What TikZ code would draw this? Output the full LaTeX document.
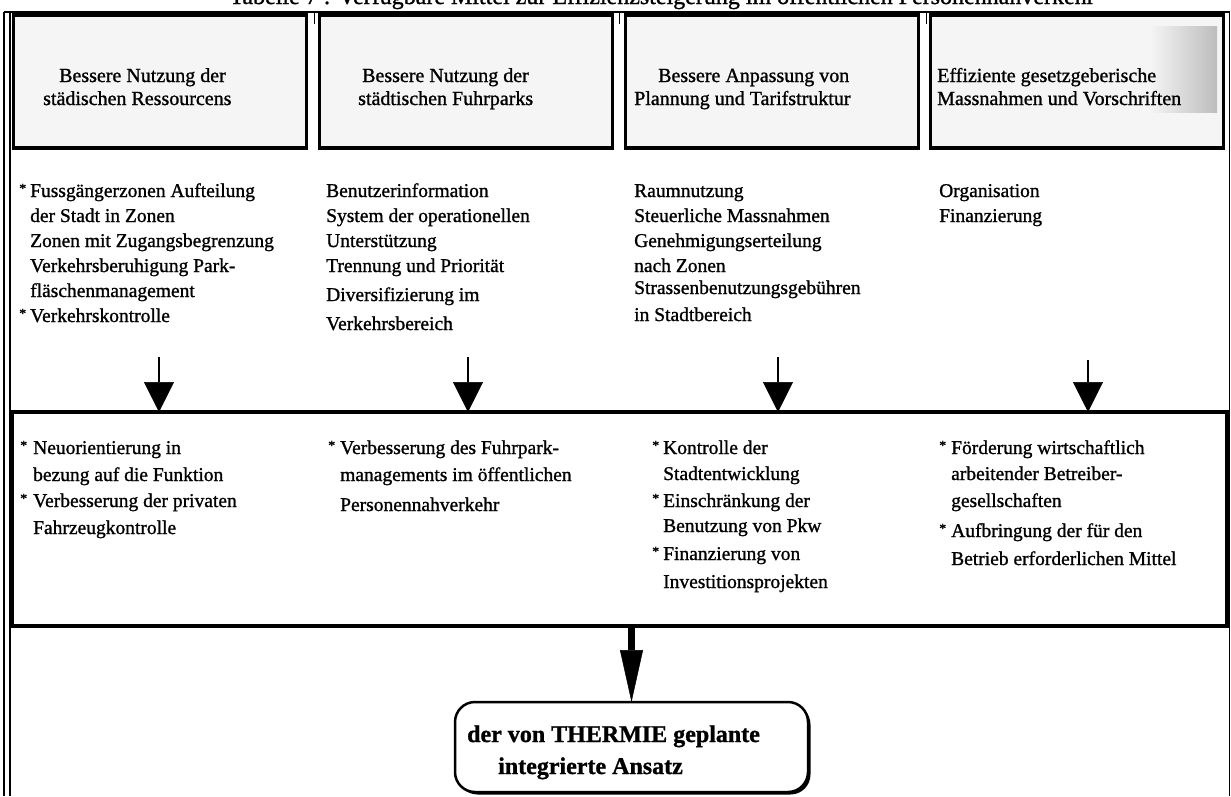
\documentclass[tikz,border=0pt]{standalone}
\usepackage{fontspec}
\setmainfont{Liberation Serif}[FakeBold=1.1]
\usetikzlibrary{arrows.meta,shadows}
\newcommand\bulx[1]{\llap{\raisebox{4pt}{\fontsize{14}{14}\selectfont *}\hspace*{#1}}}
\begin{document}
\begin{tikzpicture}[x=1pt,y=-1pt,
  topbox/.style={draw, line width=3.5pt, fill=black!4, minimum width=293pt, minimum height=133pt, inner sep=0pt, outer sep=0pt},
  midbox/.style={draw, line width=4pt, minimum width=1215pt, minimum height=214pt, inner sep=0pt, outer sep=0pt},
  finbox/.style={draw, line width=2.5pt, fill=white, rounded corners=20pt, minimum width=353pt, minimum height=90pt, inner sep=0pt, outer sep=0pt,
    drop shadow={shadow xshift=2.5pt, shadow yshift=-2.5pt, fill=black, opacity=1}},
  head/.style={font=\fontsize{20}{24}\selectfont, inner sep=0pt, anchor=base west},
  body/.style={font=\fontsize{19.5}{24}\selectfont, inner sep=0pt, anchor=base west},
  fint/.style={font=\fontsize{24}{28}\selectfont\bfseries, inner sep=0pt, anchor=base west},
  smallarr/.style={line width=1.5pt, -{Triangle[width=30pt,length=30pt,line width=0.5pt]}},
  bigarr/.style={line width=7pt, -{Triangle[width=23pt,length=52pt,line width=0.5pt]}},
  frameline/.style={line width=1.5pt}
]
\useasboundingbox (0,0) rectangle (1231,796);
% title (cut off at top, as in the reference)
\node[font=\fontsize{24}{24}\selectfont, anchor=base, inner sep=0pt] (title) at (662,4) {Tabelle 7 : Verfügbare Mittel zur Effizienzsteigerung im öffentlichen Personennahverkehr};
% outer frame
\draw[frameline] (4,12) -- (4,796);
\draw[line width=2pt] (9.5,12) -- (9.5,796);
\draw[frameline] (4,12) -- (1229.5,12);
\draw[line width=1.2pt] (1229.5,12) -- (1229.5,796);
\foreach \x in {314,619,926} \draw[line width=1pt] (\x,12) -- (\x,24);
% top boxes
\node[topbox] (t1) at (160,81.5) {};
\node[topbox] (t2) at (466,81.5) {};
\node[topbox] (t3) at (772,81.5) {};
\node[topbox] (t4) at (1077,81.5) {};
\shade[left color=black!4, right color=black!26] (1150,26) rectangle (1217,112);
\node[head] (h1a) at (59,82) {Bessere Nutzung der};
\node[head] (h1b) at (43,105) {städischen Ressourcens};
\node[head] (h2a) at (362,82) {Bessere Nutzung der};
\node[head] (h2b) at (358,105) {städtischen Fuhrparks};
\node[head] (h3a) at (658,82) {Bessere Anpassung von};
\node[head] (h3b) at (634,105) {Plannung und Tarifstruktur};
\node[head] (h4a) at (937,82) {Effiziente gesetzgeberische};
\node[head] (h4b) at (937,105) {Massnahmen und Vorschriften};
% measure lists
\foreach \y/\t [count=\i] in {197/{\bulx{4pt}Fussgängerzonen Aufteilung}, 222/{der Stadt in Zonen}, 247/{Zonen mit Zugangsbegrenzung}, 272/{Verkehrsberuhigung Park-}, 297/{fläschenmanagement}, 322/{\bulx{4pt}Verkehrskontrolle}}
  \node[body] (ca\i) at (30,\y) {\t};
\foreach \y/\t [count=\i] in {197/{Benutzerinformation}, 222/{System der operationellen}, 247/{Unterstützung}, 272/{Trennung und Priorität}, 301/{Diversifizierung im}, 330/{Verkehrsbereich}}
  \node[body] (cb\i) at (326,\y) {\t};
\foreach \y/\t [count=\i] in {197/{Raumnutzung}, 222/{Steuerliche Massnahmen}, 247/{Genehmigungserteilung}, 272/{nach Zonen}, 294/{Strassenbenutzungsgebühren}, 321/{in Stadtbereich}}
  \node[body] (cc\i) at (634,\y) {\t};
\foreach \y/\t [count=\i] in {197/{Organisation}, 222/{Finanzierung}}
  \node[body] (cd\i) at (939,\y) {\t};
% middle box
\node[midbox] (mid) at (619.5,519) {};
\foreach \y/\t [count=\i] in {454/{\bulx{6pt}Neuorientierung in}, 481/{bezung auf die Funktion}, 507/{\bulx{6pt}Verbesserung der privaten}, 534/{Fahrzeugkontrolle}}
  \node[body] (ma\i) at (33,\y) {\t};
\foreach \y/\t [count=\i] in {454/{\bulx{5pt}Verbesserung des Fuhrpark-}, 481/{managements im öffentlichen}, 511/{Personennahverkehr}}
  \node[body] (mb\i) at (340,\y) {\t};
\foreach \y/\t [count=\i] in {454/{\bulx{4pt}Kontrolle der}, 480/{Stadtentwicklung}, 507/{\bulx{4pt}Einschränkung der}, 532/{Benutzung von Pkw}, 560/{\bulx{4pt}Finanzierung von}, 588/{Investitionsprojekten}}
  \node[body] (mc\i) at (663,\y) {\t};
\foreach \y/\t [count=\i] in {454/{\bulx{5pt}Förderung wirtschaftlich}, 480/{arbeitender Betreiber-}, 507/{gesellschaften}, 537/{\bulx{5pt}Aufbringung der für den}, 565/{Betrieb erforderlichen Mittel}}
  \node[body] (md\i) at (951,\y) {\t};
% small arrows
\coordinate (s1) at (159,357);
\coordinate (s2) at (468,357);
\coordinate (s3) at (778,357);
\coordinate (s4) at (1088,360);
\foreach \s in {s1,s2,s3,s4} \draw[smallarr] (\s) -- (\s |- mid.north);
% final box
\node[finbox] (fin) at (631.5,747) {};
\node[fint] (f1) at (467,742) {der von THERMIE geplante};
\node[fint] (f2) at (498,774) {integrierte Ansatz};
\draw[bigarr] (fin.north |- mid.south) -- (fin.north);
\end{tikzpicture}
\end{document}
